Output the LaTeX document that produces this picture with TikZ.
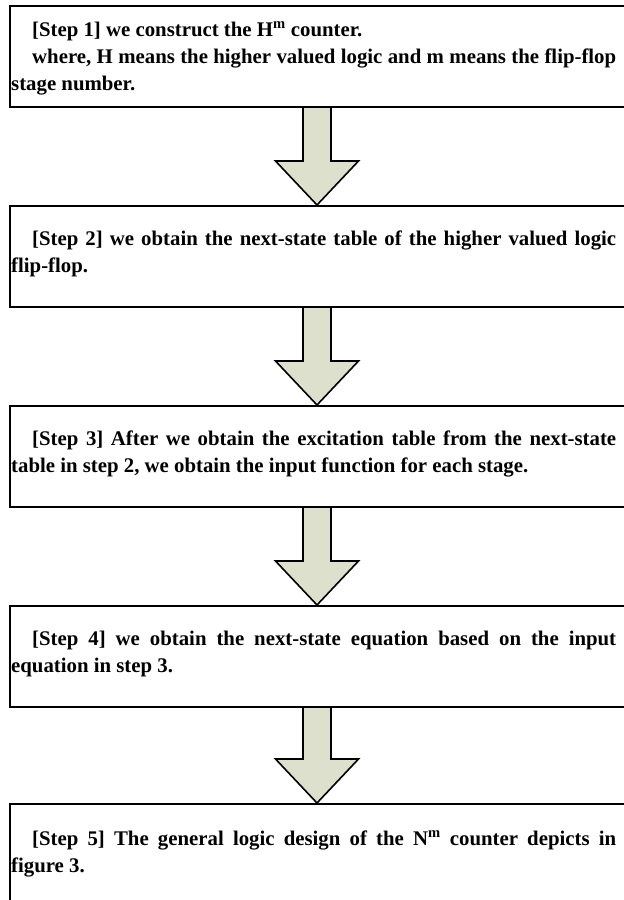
\documentclass[tikz,border=0pt]{standalone}
\usepackage{fontspec}
\setmainfont{Liberation Serif}
\usetikzlibrary{calc,backgrounds}
\definecolor{arrowfill}{RGB}{220,224,204}
\tikzset{
  stepbox/.style={draw=black, line width=2pt, rectangle, anchor=north west,
    minimum width=640pt, inner sep=0pt},
  steptext/.style={anchor=base west, text width=605pt, inner sep=0pt, align=justify,
    font={\fontsize{20.8}{27}\selectfont\bfseries\parindent=0pt\hyphenpenalty=10000\exhyphenpenalty=10000\spaceskip=0.25em plus 0.8em\relax}},
  flowarrow/.style={draw=black, line width=1.6pt, fill=arrowfill, line join=miter},
}
\newcommand{\stepflow}[2]{%
  \draw[flowarrow] let \p1=(317,0 |- #1.south), \p2=(317,0 |- #2.north) in
    (\x1-14,\y1) -- (\x1-14,\y2+44) -- (\x1-41.5,\y2+44) -- (\x2,\y2)
    -- (\x1+41.5,\y2+44) -- (\x1+14,\y2+44) -- (\x1+14,\y1);}
\begin{document}
\begin{tikzpicture}[x=1pt,y=-1pt]
\useasboundingbox (0,0) rectangle (624,900);
\node[stepbox, minimum height=101pt] (b1) at (9,5) {};
\node[stepbox, minimum height=101pt] (b2) at (9,205) {};
\node[stepbox, minimum height=101pt] (b3) at (9,405) {};
\node[stepbox, minimum height=101pt] (b4) at (9,605) {};
\node[stepbox, minimum height=120pt] (b5) at (9,803) {};
\node[steptext] (t1) at (11,36) {\hspace*{21pt}[Step 1] we construct the H\textsuperscript{m} counter.\par
\hspace*{21pt}where, H means the higher valued logic and m means the flip-flop stage number.};
\node[steptext] (t2) at (11,245) {\hspace*{21pt}[Step 2] we obtain the next-state table of the higher valued logic flip-flop.};
\node[steptext] (t3) at (11,445) {\hspace*{21pt}[Step 3] After we obtain the excitation table from the next-state table in step 2, we obtain the input function for each stage.};
\node[steptext] (t4) at (11,645) {\hspace*{21pt}[Step 4] we obtain the next-state equation based on the input equation in step 3.};
\node[steptext] (t5) at (11,845) {\hspace*{21pt}[Step 5] The general logic design of the N\textsuperscript{m} counter depicts in figure 3.};
\begin{scope}[on background layer]
\fill[white] (0,0) rectangle (624,900);
\stepflow{b1}{b2}
\stepflow{b2}{b3}
\stepflow{b3}{b4}
\stepflow{b4}{b5}
\end{scope}
\end{tikzpicture}
\end{document}
